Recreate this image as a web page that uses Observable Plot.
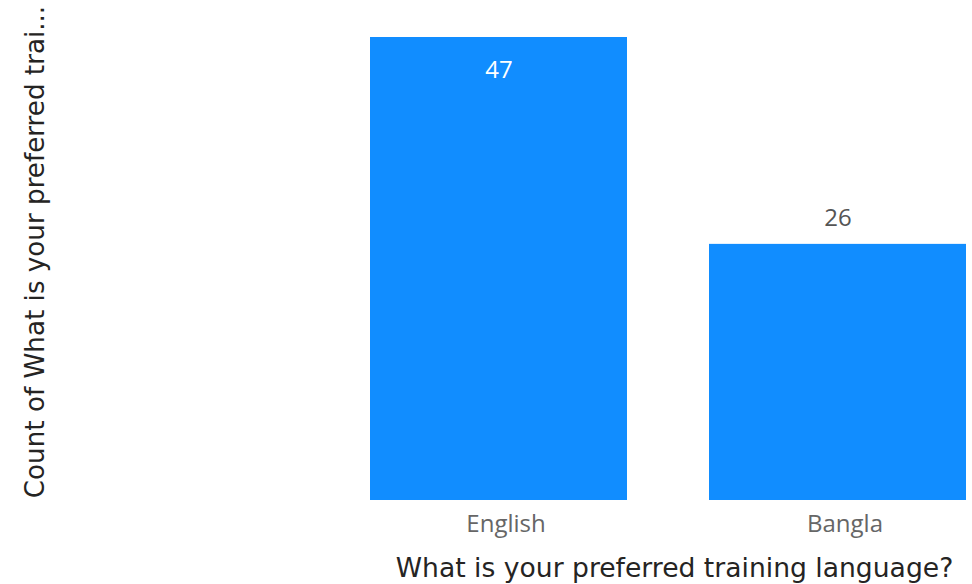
<!DOCTYPE html>
<html>
<head>
<meta charset="utf-8">
<script src="https://cdn.jsdelivr.net/npm/d3@7"></script>
<script src="https://cdn.jsdelivr.net/npm/@observablehq/plot@0.6"></script>
<style>
  html, body { margin: 0; padding: 0; background: #fff; }
  #chart { width: 972px; height: 584px; }
</style>
</head>
<body>
<div id="chart"></div>
<script>
const categories = ["English", "Bangla"];
const counts = [47, 26];
const xTitle = "What is your preferred training language?";
const yTitle = "Count of What is your preferred trai...";

const data = categories.map((c, i) => ({language: c, count: counts[i]}));
const labelInside = data.filter(d => d.count >= 40);
const labelOutside = data.filter(d => d.count < 40);

const chart = Plot.plot({
  width: 972,
  height: 584,
  marginLeft: 369,
  marginRight: 5,
  marginTop: 37,
  marginBottom: 84,
  style: {background: "#fff"},
  x: {domain: categories, paddingInner: 0.241, paddingOuter: 0, label: null},
  y: {domain: [0, 47], axis: null},
  marks: [
    Plot.barY(data, {x: "language", y: "count", fill: "#118DFF"}),
    Plot.text(labelInside, {x: "language", y: "count", text: d => String(d.count), dy: 33, fill: "#ffffff", fontSize: 24, fontFamily: "Open Sans"}),
    Plot.text(labelOutside, {x: "language", y: "count", text: d => String(d.count), dy: -26, fill: "#555555", fontSize: 24, fontFamily: "Open Sans"}),
    Plot.axisX({tickSize: 0, tickPadding: 14, fontSize: 24, fill: "#666666", label: null, fontFamily: "Open Sans", dx: 7}),
    Plot.text([xTitle], {frameAnchor: "bottom", dx: 6, dy: 76, fontSize: 26.6, fill: "#252423", fontFamily: "DejaVu Sans"})
  ]
});
document.getElementById("chart").appendChild(chart);

// rotated y-axis title
d3.select(chart)
  .append("text")
  .attr("transform", "translate(36,252) rotate(-90)")
  .attr("text-anchor", "middle")
  .attr("dominant-baseline", "middle")
  .attr("font-family", "DejaVu Sans")
  .attr("font-size", 26.2)
  .attr("fill", "#252423")
  .text(yTitle);
</script>
</body>
</html>
